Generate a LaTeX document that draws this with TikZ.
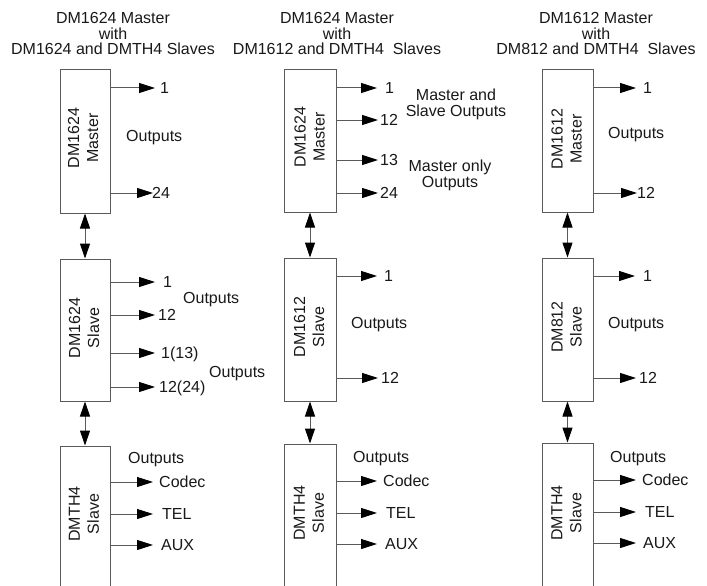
\documentclass[tikz,border=0pt]{standalone}
\usepackage{fontspec}
\setmainfont{Liberation Sans}
\usetikzlibrary{arrows.meta}
\definecolor{linegray}{RGB}{90,90,90}
\definecolor{ink}{RGB}{25,25,25}
\begin{document}
\begin{tikzpicture}[x=1pt,y=-1pt,
  font=\fontsize{16}{16}\selectfont, text=ink,
  box/.style={draw=linegray, line width=1pt, minimum width=50pt, inner sep=0pt},
  boxtext/.style={rotate=90, align=center, inner sep=0pt, font=\fontsize{16}{19}\selectfont},
  lbl/.style={anchor=west, inner sep=0pt, text height=11.5pt, text depth=0pt},
  ctr/.style={align=center, inner sep=0pt},
  title/.style={align=center, inner sep=0pt, font=\fontsize{16}{15.5}\selectfont},
  outarrow/.style={draw=linegray, line width=1pt, -{Triangle[length=16pt,width=10pt,color=black]}},
  linkarrow/.style={draw=linegray, line width=1pt, {Triangle[length=15pt,width=10pt,color=black]}-{Triangle[length=15pt,width=10pt,color=black]}}
]
\useasboundingbox (0,0) rectangle (707,586);
\clip (0,0) rectangle (707,586);
\fill[white] (0,0) rectangle (707,586);

% ---------- titles
\node[title] (t1) at (113,33.5) {DM1624 Master\\with\\DM1624 and DMTH4 Slaves};
\node[title] (t2) at (337,33.5) {DM1624 Master\\with\\DM1612 and DMTH4\ \ Slaves};
\node[title] (t3) at (596,33.5) {DM1612 Master\\with\\DM812 and DMTH4\ \ Slaves};

% ---------- column 1
\node[box, minimum height=143pt] (m1) at (85,141.5) {};
\node[box, minimum height=142pt] (s1) at (85,330) {};
\node[box, minimum height=154pt] (d1) at (85,523) {};
\node[boxtext] (m1t) at (83,138) {DM1624\\Master};
\node[boxtext] (s1t) at (84,328) {DM1624\\Slave};
\node[boxtext] (d1t) at (84,514) {DMTH4\\Slave};
\draw[linkarrow] (m1.south) -- (s1.north);
\draw[linkarrow] (s1.south) -- (d1.north);

\draw[outarrow] (m1.east |- 0,88) -- (155,88);
\draw[outarrow] (m1.east |- 0,193) -- (153,193);
\node[lbl] (m1o1) at (160,88) {1};
\node[lbl] (m1o24) at (152,193) {24};
\node[lbl] (m1out) at (126,136) {Outputs};

\draw[outarrow] (s1.east |- 0,282) -- (155,282);
\draw[outarrow] (s1.east |- 0,315) -- (155,315);
\draw[outarrow] (s1.east |- 0,353) -- (155,353);
\draw[outarrow] (s1.east |- 0,387) -- (155,387);
\node[lbl] (s1o1) at (163,282) {1};
\node[lbl] (s1o12) at (158,315) {12};
\node[lbl] (s1o13) at (161,353) {1(13)};
\node[lbl] (s1o24) at (159,387) {12(24)};
\node[lbl] (s1outa) at (183,298) {Outputs};
\node[lbl] (s1outb) at (209,372) {Outputs};

\draw[outarrow] (d1.east |- 0,482) -- (153,482);
\draw[outarrow] (d1.east |- 0,514) -- (153,514);
\draw[outarrow] (d1.east |- 0,545) -- (153,545);
\node[lbl] (d1out) at (128,458) {Outputs};
\node[lbl] (d1c) at (159,482) {Codec};
\node[lbl] (d1t2) at (162,514) {TEL};
\node[lbl] (d1a) at (161,545) {AUX};

% ---------- column 2
\node[box, minimum width=52pt, minimum height=142pt] (m2) at (310,141) {};
\node[box, minimum width=52pt, minimum height=143pt] (s2) at (310,329.5) {};
\node[box, minimum width=52pt, minimum height=156pt] (d2) at (310,522) {};
\node[boxtext] (m2t) at (309.5,137) {DM1624\\Master};
\node[boxtext] (s2t) at (309,327) {DM1612\\Slave};
\node[boxtext] (d2t) at (309,513) {DMTH4\\Slave};
\draw[linkarrow] (m2.south) -- (s2.north);
\draw[linkarrow] (s2.south) -- (d2.north);

\draw[outarrow] (m2.east |- 0,88) -- (377,88);
\draw[outarrow] (m2.east |- 0,120) -- (378,120);
\draw[outarrow] (m2.east |- 0,160) -- (378,160);
\draw[outarrow] (m2.east |- 0,193) -- (378,193);
\node[lbl] (m2o1) at (385,88) {1};
\node[lbl] (m2o12) at (380,120) {12};
\node[lbl] (m2o13) at (380,160) {13};
\node[lbl] (m2o24) at (380,193) {24};
\node[ctr] (m2ms) at (456,104.5) {Master and\\Slave Outputs};
\node[ctr] (m2mo) at (450,175) {Master only\\Outputs};

\draw[outarrow] (s2.east |- 0,276) -- (377,276);
\draw[outarrow] (s2.east |- 0,378) -- (378,378);
\node[lbl] (s2o1) at (384,276) {1};
\node[lbl] (s2o12) at (381,378) {12};
\node[lbl] (s2out) at (351,323) {Outputs};

\draw[outarrow] (d2.east |- 0,481) -- (377,481);
\draw[outarrow] (d2.east |- 0,513) -- (377,513);
\draw[outarrow] (d2.east |- 0,544) -- (377,544);
\node[lbl] (d2out) at (353,457) {Outputs};
\node[lbl] (d2c) at (383,481) {Codec};
\node[lbl] (d2t2) at (386,513) {TEL};
\node[lbl] (d2a) at (385,544) {AUX};

% ---------- column 3
\node[box, minimum width=51pt, minimum height=142pt] (m3) at (567.5,141) {};
\node[box, minimum width=51pt, minimum height=143pt] (s3) at (567.5,329.5) {};
\node[box, minimum width=51pt, minimum height=157pt] (d3) at (567.5,521.5) {};
\node[boxtext] (m3t) at (566.5,139) {DM1612\\Master};
\node[boxtext] (s3t) at (566.5,327) {DM812\\Slave};
\node[boxtext] (d3t) at (566.5,513) {DMTH4\\Slave};
\draw[linkarrow] (m3.south) -- (s3.north);
\draw[linkarrow] (s3.south) -- (d3.north);

\draw[outarrow] (m3.east |- 0,88) -- (636,88);
\draw[outarrow] (m3.east |- 0,193) -- (637,193);
\node[lbl] (m3o1) at (643,88) {1};
\node[lbl] (m3o12) at (637,193) {12};
\node[lbl] (m3out) at (608,133) {Outputs};

\draw[outarrow] (s3.east |- 0,276) -- (635,276);
\draw[outarrow] (s3.east |- 0,378) -- (636,378);
\node[lbl] (s3o1) at (643,276) {1};
\node[lbl] (s3o12) at (639,378) {12};
\node[lbl] (s3out) at (608,323) {Outputs};

\draw[outarrow] (d3.east |- 0,480) -- (636,480);
\draw[outarrow] (d3.east |- 0,512) -- (636,512);
\draw[outarrow] (d3.east |- 0,543) -- (636,543);
\node[lbl] (d3out) at (610,457) {Outputs};
\node[lbl] (d3c) at (642,480) {Codec};
\node[lbl] (d3t2) at (645,512) {TEL};
\node[lbl] (d3a) at (643,543) {AUX};
\end{tikzpicture}
\end{document}
